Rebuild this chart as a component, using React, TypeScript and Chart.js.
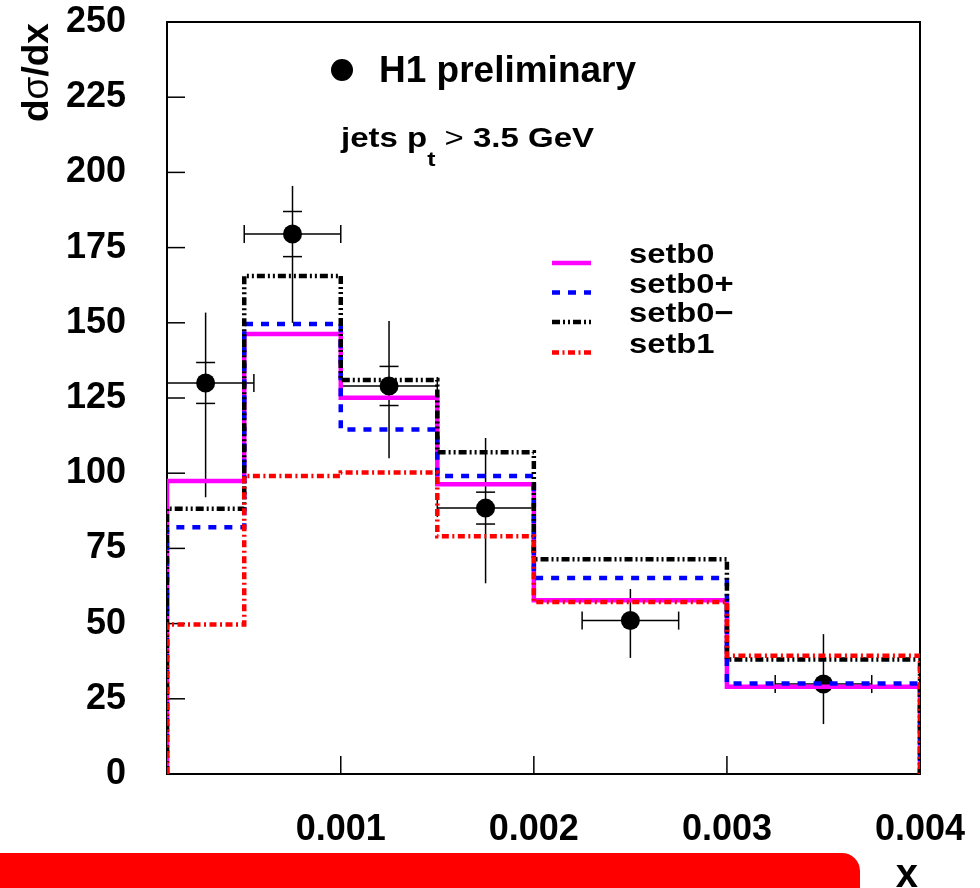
import React, { useEffect, useRef } from "react";
import { Chart, registerables } from "chart.js";
Chart.register(...registerables);

// ---------- data ----------
const binEdges = [0.0001, 0.0005, 0.001, 0.0015, 0.002, 0.003, 0.004];
const setb0 = [97.4, 146.3, 125.1, 96.3, 57.8, 29.0];
const setb0plus = [82.0, 149.6, 114.5, 99.1, 65.2, 30.1];
const setb0minus = [88.2, 165.6, 131.0, 107.0, 71.4, 38.1];
const setb1 = [49.7, 99.1, 100.2, 79.0, 57.2, 39.3];

const dataX = [0.0003, 0.00075, 0.00125, 0.00175, 0.0025, 0.0035];
const dataXErr = [0.00025, 0.00025, 0.00025, 0.00025, 0.00025, 0.00025];
const dataY = [130, 179.5, 129, 88.4, 51, 29.9];
const statErr: (number | null)[] = [6.8, 7.5, 6.5, 5.3, null, null];
const totErrUp = [23.4, 16, 21.6, 23.3, 10.5, 16.6];
const totErrDown = [38, 29.5, 24, 25, 12.4, 13.3];

const xTicks = [0.001, 0.002, 0.003, 0.004];
const xTickLabels = ["0.001", "0.002", "0.003", "0.004"];
const yMin = 0;
const yMax = 250;
const yStep = 25;

const seriesNames = ["setb0", "setb0+", "setb0\u2212", "setb1"];
const seriesColors = ["#ff00ff", "#0000ff", "#000000", "#ff0000"];
const seriesDashes = [[], [8, 8], [8, 3, 2, 3, 2, 3], [7, 3.5, 2, 3.5]];

const FONT = "'Liberation Sans', Arial, Helvetica, sans-serif";

function histPoints(edges: number[], vals: number[]) {
  const pts = [{ x: edges[0], y: 0 }];
  vals.forEach((v, i) => {
    pts.push({ x: edges[i], y: v });
    pts.push({ x: edges[i + 1], y: v });
  });
  pts.push({ x: edges[edges.length - 1], y: 0 });
  return pts;
}

function seg(ctx: CanvasRenderingContext2D, x1: number, y1: number, x2: number, y2: number) {
  ctx.beginPath();
  ctx.moveTo(x1, y1);
  ctx.lineTo(x2, y2);
  ctx.stroke();
}

const framePlugin = {
  id: "frame",
  beforeDatasetsDraw(chart: any) {
    const { ctx, chartArea: a, scales } = chart;
    ctx.save();
    ctx.strokeStyle = "#000";
    ctx.lineWidth = 1.5;
    scales.y.ticks.forEach((t: any) => {
      const y = scales.y.getPixelForValue(t.value);
      seg(ctx, a.left, y, a.left + 18, y);
    });
    xTicks.forEach((v) => {
      const x = scales.x.getPixelForValue(v);
      seg(ctx, x, a.bottom, x, a.bottom - 18);
    });
    ctx.lineWidth = 2;
    ctx.strokeRect(a.left, a.top, a.right - a.left, a.bottom - a.top);
    ctx.restore();
  },
};

const errorBarPlugin = {
  id: "errbars",
  beforeDatasetsDraw(chart: any) {
    const { ctx, chartArea: a, scales } = chart;
    const xs = scales.x, ys = scales.y;
    ctx.save();
    ctx.beginPath();
    ctx.rect(a.left, a.top, a.right - a.left, a.bottom - a.top);
    ctx.clip();
    ctx.strokeStyle = "#000";
    ctx.lineWidth = 1.5;
    dataX.forEach((xv, i) => {
      const px = xs.getPixelForValue(xv);
      const py = ys.getPixelForValue(dataY[i]);
      const xl = xs.getPixelForValue(xv - dataXErr[i]);
      const xr = xs.getPixelForValue(xv + dataXErr[i]);
      const yt = ys.getPixelForValue(dataY[i] + totErrUp[i]);
      const yb = ys.getPixelForValue(dataY[i] - totErrDown[i]);
      seg(ctx, xl, py, xr, py);
      seg(ctx, px, yt, px, yb);
      seg(ctx, xl, py - 9, xl, py + 9);
      seg(ctx, xr, py - 9, xr, py + 9);
      const s = statErr[i];
      if (s != null) {
        const y1 = ys.getPixelForValue(dataY[i] + s);
        const y2 = ys.getPixelForValue(dataY[i] - s);
        seg(ctx, px - 9.5, y1, px + 9.5, y1);
        seg(ctx, px - 9.5, y2, px + 9.5, y2);
      }
    });
    ctx.restore();
  },
};

const annotationPlugin = {
  id: "annot",
  afterDraw(chart: any) {
    const { ctx } = chart;
    ctx.save();
    ctx.fillStyle = "#000";
    ctx.textAlign = "left";
    ctx.textBaseline = "alphabetic";

    // H1 preliminary
    ctx.beginPath();
    ctx.arc(342, 70, 11, 0, Math.PI * 2);
    ctx.fill();
    ctx.font = `bold 37px ${FONT}`;
    ctx.fillText("H1 preliminary", 379, 82);

    // jets p_t > 3.5 GeV
    const parts = [
      { t: "jets p", f: `bold 28px ${FONT}`, dy: 0 },
      { t: "t", f: `bold 21px ${FONT}`, dy: 19 },
      { t: " > ", f: `28px ${FONT}`, dy: 0 },
      { t: "3.5 GeV", f: `bold 28px ${FONT}`, dy: 0 },
    ];
    let total = 0;
    parts.forEach((p) => { ctx.font = p.f; total += ctx.measureText(p.t).width; });
    const sx = (594 - 341) / total;
    ctx.save();
    ctx.translate(341, 147);
    ctx.scale(sx, 1);
    let cx = 0;
    parts.forEach((p) => {
      ctx.font = p.f;
      ctx.fillText(p.t, cx, p.dy);
      cx += ctx.measureText(p.t).width;
    });
    ctx.restore();

    // legend
    const rowY = [263, 292.5, 322, 352.5];
    seriesNames.forEach((name, i) => {
      ctx.save();
      ctx.strokeStyle = seriesColors[i];
      ctx.lineWidth = 4.5;
      ctx.setLineDash(seriesDashes[i]);
      seg(ctx, 552, rowY[i], 591, rowY[i]);
      ctx.restore();
      ctx.save();
      ctx.font = `bold 28px ${FONT}`;
      ctx.translate(629, rowY[i]);
      ctx.scale(1.17, 1);
      ctx.fillText(name, 0, 0);
      ctx.restore();
    });

    // y title: dσ/dx
    ctx.save();
    ctx.translate(48, 122);
    ctx.rotate(-Math.PI / 2);
    const tparts = [
      { t: "d", f: `bold 37px ${FONT}` },
      { t: "\u03c3", f: `37px ${FONT}` },
      { t: "/dx", f: `bold 37px ${FONT}` },
    ];
    let tx = 0;
    tparts.forEach((p) => {
      ctx.font = p.f;
      ctx.fillText(p.t, tx, 0);
      tx += ctx.measureText(p.t).width;
    });
    ctx.restore();

    // x title
    ctx.font = `bold 40px ${FONT}`;
    ctx.textAlign = "right";
    ctx.fillText("x", 918, 887);
    ctx.restore();
  },
};

function histDataset(label: string, vals: number[], i: number, order: number) {
  return {
    label,
    data: histPoints(binEdges, vals),
    borderColor: seriesColors[i],
    backgroundColor: seriesColors[i],
    borderWidth: 4.5,
    borderDash: seriesDashes[i],
    pointRadius: 0,
    tension: 0,
    fill: false,
    order,
  };
}

export default function App() {
  const ref = useRef<HTMLCanvasElement>(null);
  useEffect(() => {
    const tickFont = { family: FONT, size: 36, weight: "bold" as const };
    const chart = new Chart(ref.current as HTMLCanvasElement, {
      type: "line",
      data: {
        datasets: [
          {
            label: "H1 preliminary",
            data: dataX.map((x, i) => ({ x, y: dataY[i] })),
            showLine: false,
            pointRadius: 9.5,
            pointBackgroundColor: "#000",
            pointBorderColor: "#000",
            pointBorderWidth: 0,
            order: 10,
          } as any,
          histDataset(seriesNames[0], setb0, 0, 4),
          histDataset(seriesNames[1], setb0plus, 1, 3),
          histDataset(seriesNames[2], setb0minus, 2, 2),
          histDataset(seriesNames[3], setb1, 3, 1),
        ],
      },
      options: {
        animation: false,
        responsive: false,
        events: [],
        layout: { padding: { top: 22, right: 60, left: 0, bottom: 0 } },
        plugins: { legend: { display: false }, tooltip: { enabled: false } },
        scales: {
          x: {
            type: "linear",
            min: binEdges[0],
            max: binEdges[binEdges.length - 1],
            afterBuildTicks: (s: any) => {
              s.ticks = xTicks.map((v) => ({ value: v }));
            },
            afterFit: (s: any) => {
              s.height = 114;
              s.paddingLeft = 0;
              s.paddingRight = 0;
              s.paddingTop = 0;
              s.paddingBottom = 0;
            },
            grid: { display: false, drawTicks: false },
            border: { display: false },
            ticks: {
              color: "#000",
              font: tickFont,
              padding: 34,
              maxRotation: 0,
              autoSkip: false,
              callback: (_v: any, i: number) => xTickLabels[i],
            },
          },
          y: {
            min: yMin,
            max: yMax,
            afterFit: (s: any) => {
              s.width = 167;
              s.paddingLeft = 0;
              s.paddingRight = 0;
              s.paddingTop = 0;
              s.paddingBottom = 0;
            },
            grid: { display: false, drawTicks: false },
            border: { display: false },
            ticks: { stepSize: yStep, color: "#000", font: tickFont, padding: 41 },
          },
        },
      } as any,
      plugins: [framePlugin, errorBarPlugin, annotationPlugin],
    });
    return () => chart.destroy();
  }, []);
  return (
    <div style={{ position: "fixed", left: 0, top: 0, width: 980, height: 888, background: "#fff", overflow: "hidden" }}>
      <canvas ref={ref} width={980} height={888} style={{ display: "block", width: 980, height: 888 }} />
      <div
        style={{
          position: "absolute",
          left: 0,
          top: 853,
          width: 860,
          height: 40,
          background: "#ff0000",
          borderTopRightRadius: 18,
        }}
      />
    </div>
  );
}
